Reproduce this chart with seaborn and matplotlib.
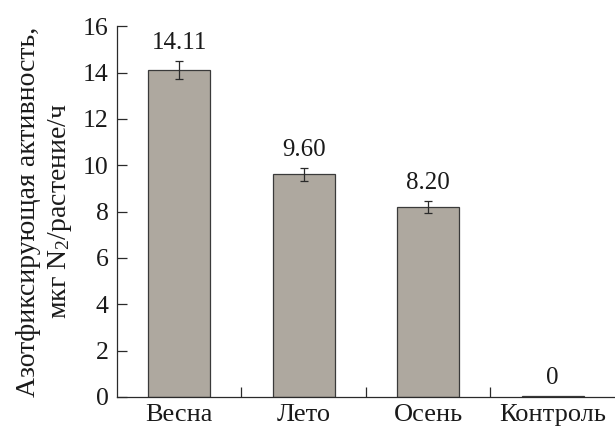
import matplotlib
matplotlib.use("Agg")
import matplotlib.pyplot as plt
import seaborn as sns
import pandas as pd

categories = ["Весна", "Лето", "Осень", "Контроль"]
values = [14.11, 9.60, 8.20, 0.06]
errors = [0.40, 0.30, 0.25, 0.0]
labels = ["14.11", "9.60", "8.20", "0"]

sns.set_theme(style="ticks")
plt.rcParams["font.family"] = ["Liberation Serif", "DejaVu Serif"]
plt.rcParams["mathtext.fontset"] = "custom"
plt.rcParams["mathtext.rm"] = "Liberation Serif"
plt.rcParams["mathtext.it"] = "Liberation Serif"

df = pd.DataFrame({"cat": categories, "val": values})

fig = plt.figure(figsize=(6.15, 4.30), dpi=100)
ax = fig.add_axes([0.19, 0.077, 0.81, 0.862])
sns.barplot(data=df, x="cat", y="val", color="#aea89f", saturation=1,
            width=0.5, edgecolor="#3a3a3a", linewidth=0.9, errorbar=None, ax=ax)

xs = [p.get_x() + p.get_width() / 2 for p in ax.patches]
for x, v, e, lab in zip(xs, values, errors, labels):
    if e > 0:
        ax.errorbar(x, v, yerr=e, fmt="none", ecolor="#2a2a2a", elinewidth=0.9,
                    capsize=3, capthick=0.9)
    ax.annotate(lab, (x, v + e), xytext=(0, 5), textcoords="offset points",
                ha="center", va="bottom", fontsize=18, color="#1a1a1a")

ax.set_xlim(-0.5, 3.5)
ax.set_ylim(0, 16)
ax.set_yticks(range(0, 17, 2))
ax.set_xticks([0.5, 1.5, 2.5], minor=False)
ax.set_xticklabels([])
ax.set_xticks([0, 1, 2, 3], minor=True)
ax.set_xticklabels(categories, minor=True)
ax.tick_params(axis="x", which="minor", length=0, labelsize=19, pad=5, colors="#1a1a1a")
ax.tick_params(axis="x", which="major", direction="in", length=7, width=0.9, color="#2a2a2a")
ax.tick_params(axis="y", direction="in", length=7, width=0.9, labelsize=18.5,
               color="#2a2a2a", labelcolor="#1a1a1a", pad=6)
ax.set_xlabel("")
ax.set_ylabel("Азотфиксирующая активность,\nмкг N$_2$/растение/ч", fontsize=20,
              color="#1a1a1a", labelpad=6, linespacing=1.25)
sns.despine(ax=ax)
for s in ["left", "bottom"]:
    ax.spines[s].set_linewidth(0.9)
    ax.spines[s].set_color("#2a2a2a")

fig.savefig("out.png", dpi=100)
